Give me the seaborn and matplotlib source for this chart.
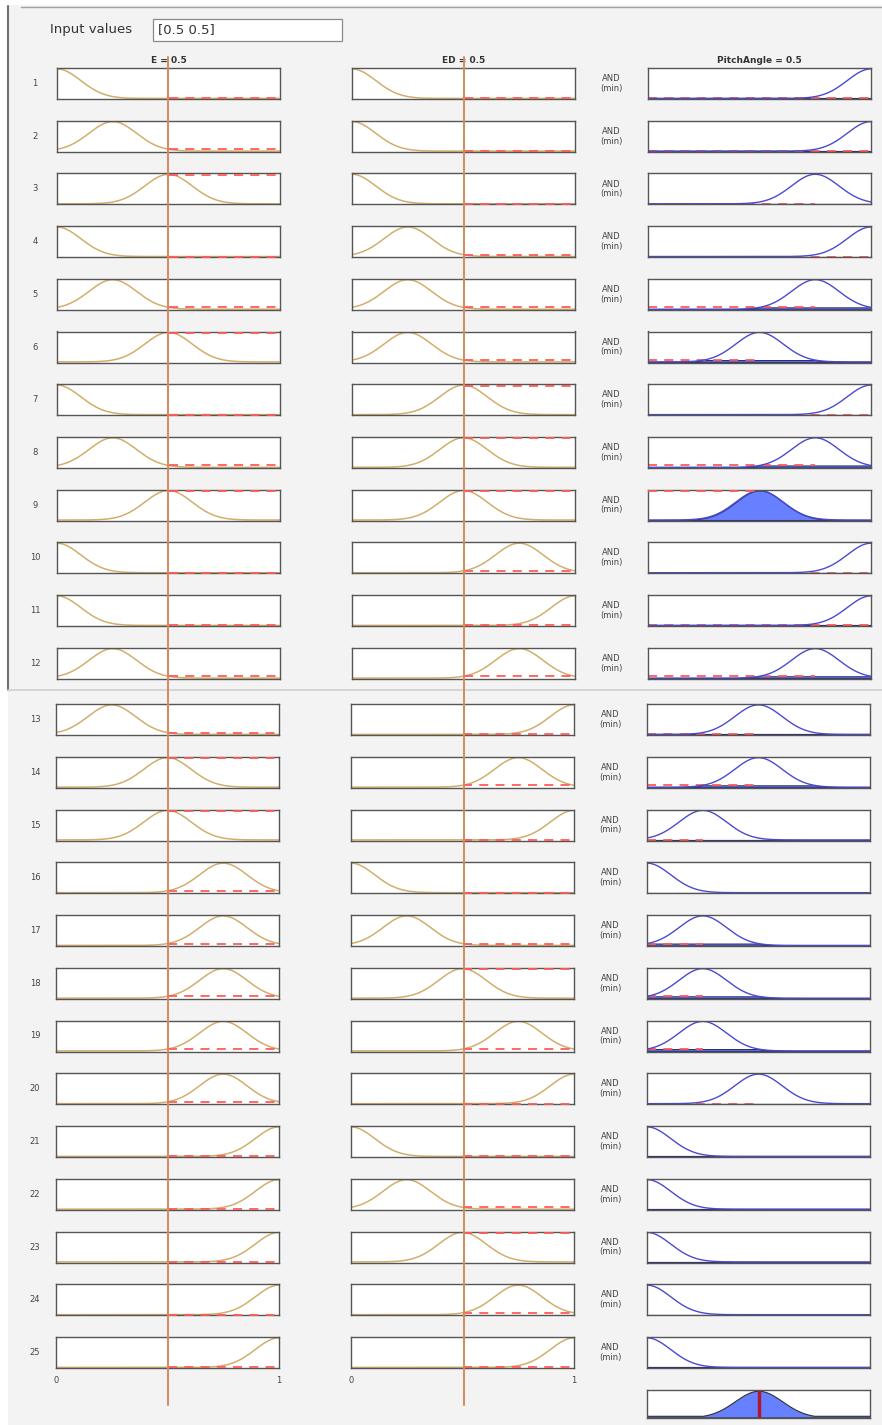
import numpy as np
import pandas as pd
import matplotlib
matplotlib.use("Agg")
import matplotlib.pyplot as plt
from matplotlib.lines import Line2D
from matplotlib.patches import Rectangle
import seaborn as sns

sns.set_theme(style="white")
plt.rcParams['font.family'] = ['DejaVu Sans']

# ---------------- data ----------------
rules = list(range(1, 26))
e_centers = [0, 0.25, 0.5, 0, 0.25, 0.5, 0, 0.25, 0.5, 0, 0, 0.25, 0.25,
             0.5, 0.5, 0.75, 0.75, 0.75, 0.75, 0.75, 1, 1, 1, 1, 1]
ed_centers = [0, 0, 0, 0.25, 0.25, 0.25, 0.5, 0.5, 0.5, 0.75, 1, 0.75, 1,
              0.75, 1, 0, 0.25, 0.5, 0.75, 1, 0, 0.25, 0.5, 0.75, 1]
pa_centers = [1, 1, 0.75, 1, 0.75, 0.5, 1, 0.75, 0.5, 1, 1, 0.75, 0.5,
              0.5, 0.25, 0, 0.25, 0.25, 0.25, 0.5, 0, 0, 0, 0, 0]
mf_sigma = 0.1062
input_values = [0.5, 0.5]
output_value = 0.5
col_titles = ["E = 0.5", "ED = 0.5", "PitchAngle = 0.5"]

# ---------------- styling ----------------
W, H = 882, 1425
BG = "#f3f3f3"
IN_COLOR = "#d2ae6c"
OUT_COLOR = "#4a4ad0"
FILL_COLOR = "#6680ff"
ORANGE = "#d8885c"
RED_DASH = "#ff5a5a"
DEFUZZ = "#b0182f"
SPINE = "#555555"

fig = plt.figure(figsize=(W / 100, H / 100), dpi=100)
fig.patch.set_facecolor("white")


def rect(x, y, w, h):
    return [x / W, 1 - (y + h) / H, w / W, h / H]


def fx(x):
    return x / W


def fy(y):
    return 1 - y / H


# background areas
fig.add_artist(Rectangle((fx(8), fy(690)), fx(874), 690 / H - 5 / H,
                         transform=fig.transFigure, facecolor=BG,
                         edgecolor="none", zorder=-5))
fig.add_artist(Rectangle((fx(8), fy(1425)), fx(874), (1425 - 690) / H,
                         transform=fig.transFigure, facecolor=BG,
                         edgecolor="none", zorder=-5))
fig.add_artist(Line2D([fx(21), fx(882)], [fy(7), fy(7)], transform=fig.transFigure,
                      color="#a0a0a0", lw=1.0, zorder=-4))
fig.add_artist(Line2D([fx(8), fx(8)], [fy(6), fy(690)], transform=fig.transFigure,
                      color="#707070", lw=1.5, zorder=-4))
fig.add_artist(Line2D([fx(8), fx(882)], [fy(690), fy(690)], transform=fig.transFigure,
                      color="#d0d0d0", lw=1.2, zorder=-4))

# Input values box
fig.text(fx(50), fy(30), "Input values", fontsize=9.5, color="#333333",
         va="center", ha="left")
fig.add_artist(Rectangle((fx(153), fy(41)), fx(189), 22 / H,
                         transform=fig.transFigure, facecolor="white",
                         edgecolor="#8a8a8a", lw=0.9, zorder=1))
fig.text(fx(158), fy(30), "[0.5 0.5]", fontsize=9.5, color="#333333",
         va="center", ha="left", zorder=2)

x = np.linspace(0, 1, 401)


def gauss(v, c):
    return np.exp(-((v - c) ** 2) / (2 * mf_sigma ** 2))


def style_ax(ax):
    ax.set_xlim(0, 1)
    ax.set_ylim(-0.02, 1.03)
    ax.set_xticks([])
    ax.set_yticks([])
    ax.set_facecolor("white")
    for s in ax.spines.values():
        s.set_color(SPINE)
        s.set_linewidth(1.0)
        s.set_zorder(2.5)
    ax.set_xlabel("")
    ax.set_ylabel("")


def row_top(i):
    if i < 12:
        return 68 + i * 52.7
    return 704 + (i - 12) * 52.75


col_x_top = [57, 352, 648]
col_x_bot = [56, 351, 647]
PW, PH = 223, 31

agg = np.zeros_like(x)
for i, r in enumerate(rules):
    yt = row_top(i)
    cx = col_x_top if i < 12 else col_x_bot
    mus = []
    for j, (centers, val) in enumerate(zip([e_centers, ed_centers], input_values)):
        ax = fig.add_axes(rect(cx[j], yt, PW, PH))
        c = centers[i]
        df = pd.DataFrame({"x": x, "mu": gauss(x, c)})
        sns.lineplot(data=df, x="x", y="mu", ax=ax, color=IN_COLOR, lw=1.1)
        mu = float(gauss(val, c))
        mus.append(mu)
        yl = min(max(mu, 0.0), 0.985)
        ax.plot([val, 1], [yl, yl], ls=(0, (5, 4)), color=RED_DASH, lw=1.3,
                zorder=4, clip_on=False)
        style_ax(ax)
        if i == 24:
            ax.text(0, -0.25, "0", transform=ax.transAxes, fontsize=6,
                    color="#444444", ha="center", va="top")
            ax.text(1, -0.25, "1", transform=ax.transAxes, fontsize=6,
                    color="#444444", ha="center", va="top")
        if i == 0:
            ax.set_title(col_titles[j], fontsize=6.5, fontweight="bold",
                         color="#333333", pad=3.5)
    fire = min(mus)
    ax = fig.add_axes(rect(cx[2], yt, PW, PH))
    c = pa_centers[i]
    mf = gauss(x, c)
    clipped = np.minimum(mf, fire)
    agg = np.maximum(agg, clipped)
    ax.fill_between(x, 0, clipped, color=FILL_COLOR, edgecolor="#303070", lw=0.8)
    yl = min(fire, 0.985)
    ax.plot([0, c], [yl, yl], ls=(0, (5, 4)), color=RED_DASH, lw=1.3,
            zorder=(4 if fire > 0.5 else 1.5), clip_on=False)
    df = pd.DataFrame({"x": x, "mu": mf})
    sns.lineplot(data=df, x="x", y="mu", ax=ax, color=OUT_COLOR, lw=1.0)
    style_ax(ax)
    if i == 0:
        ax.set_title(col_titles[2], fontsize=6.5, fontweight="bold",
                     color="#333333", pad=3.5)
    # rule number and operator
    fig.text(fx(35), fy(yt + PH / 2), str(r), fontsize=6, color="#444444",
             ha="center", va="center")
    fig.text(fx(611 if i < 12 else 610), fy(yt + PH / 2), "AND\n(min)",
             fontsize=6, color="#444444", ha="center", va="center",
             linespacing=1.1)

# aggregated output
ax = fig.add_axes(rect(647, 1390, PW, 28))
ax.fill_between(x, 0, agg, color=FILL_COLOR, edgecolor="#303030", lw=0.8)
ax.axvline(output_value, color=DEFUZZ, lw=2.5)
style_ax(ax)

# input-value indicator lines
for xp in [168, 464]:
    fig.add_artist(Line2D([fx(xp), fx(xp)], [fy(57), fy(1405)],
                          transform=fig.transFigure, color=ORANGE, lw=1.4,
                          zorder=10))

fig.savefig("out.png", dpi=100, facecolor=fig.get_facecolor())
